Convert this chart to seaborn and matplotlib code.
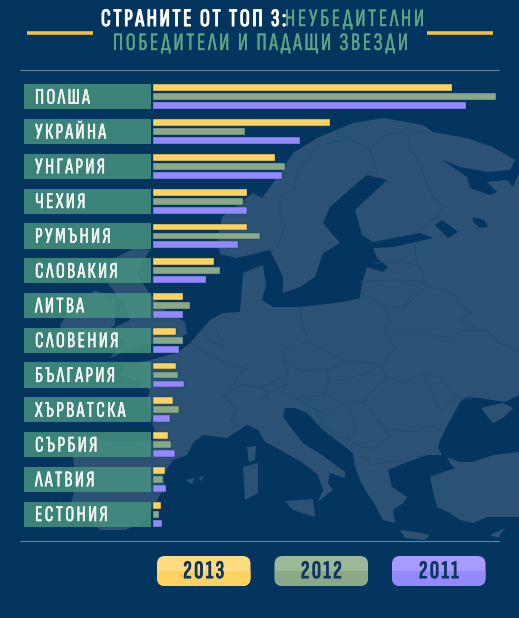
import numpy as np
import pandas as pd
import seaborn as sns
import matplotlib
matplotlib.use("Agg")
import matplotlib.pyplot as plt
import matplotlib.patheffects as pe
from matplotlib.patches import Polygon, FancyBboxPatch, Rectangle

countries = ["ПОЛША", "УКРАЙНА", "УНГАРИЯ", "ЧЕХИЯ", "РУМЪНИЯ", "СЛОВАКИЯ", "ЛИТВА",
             "СЛОВЕНИЯ", "БЪЛГАРИЯ", "ХЪРВАТСКА", "СЪРБИЯ", "ЛАТВИЯ", "ЕСТОНИЯ"]
v2013 = [299, 177, 122, 94, 94, 61, 30, 23, 23, 19.5, 15, 12, 7.5]
v2012 = [343, 92, 132, 90, 107, 67, 37, 30, 24.5, 26, 18, 10, 6]
v2011 = [313, 147, 129, 94, 85, 53, 30, 26, 31, 17, 22, 13, 9]
years = ["2013", "2012", "2011"]
palette = {"2013": "#fdd25f", "2012": "#8ba985", "2011": "#9389fb"}
palette_light = {"2013": "#fedc80", "2012": "#9bb998", "2011": "#a79bff"}
label_widths = [53, 69, 67, 49, 72, 79, 49, 78, 78, 88, 58, 58, 66]

BG = "#03355f"
LAND = "#2b5274"
BORDER = "#224c74"
W, H = 519, 618
HS = "\u200a"
FONT = ["Sofia Sans Extra Condensed", "Roboto Condensed", "DejaVu Sans"]

sns.set_theme(style="white")
plt.rcParams["font.family"] = FONT
fig = plt.figure(figsize=(W / 100, H / 100), dpi=100, facecolor=BG)

def fit(s, width, **kw):
    """Letter-space s with hair spaces so that it is about width pixels wide."""
    r = fig.canvas.get_renderer()
    best, err = s, 1e9
    for n in range(0, 14):
        cand = (HS * n).join(s)
        t = fig.text(0, 0, cand, family=FONT, **kw)
        w = t.get_window_extent(r).width
        t.remove()
        if abs(w - width) < err:
            best, err = cand, abs(w - width)
    return best

def heavy(color, w):
    return [pe.withStroke(linewidth=w, foreground=color)]

# background map, in picture pixels
bg = fig.add_axes([0, 0, 1, 1], zorder=0)
bg.set_xlim(0, W); bg.set_ylim(H, 0); bg.axis("off"); bg.set_facecolor(BG)

main = [(217,240),(222,217),(253,193),(262,198),(280,173),(293,153),(317,138),(353,123),(383,118),(423,125),
        (433,132),(467,138),(493,147),(515,160),(510,170),(487,172),(460,167),(442,160),(467,177),(470,188),
        (490,195),(497,192),(487,182),(507,180),(513,187),(519,173),(519,395),(505,402),(480,398),(467,397),
        (460,402),(452,417),(445,430),(440,440),(438,448),(442,455),(427,455),(407,462),(388,470),(392,487),
        (407,497),(403,503),(393,510),(395,523),(383,520),(375,505),(367,493),(360,480),(355,467),(353,453),
        (340,443),(323,430),(307,413),(295,408),(285,408),(283,417),(293,430),(303,443),(322,455),(345,472),
        (345,478),(330,473),(328,483),(333,490),(318,502),(323,490),(318,475),(303,463),(277,448),(265,442),
        (258,430),(247,425),(227,438),(203,435),(193,443),(187,455),(173,460),(163,475),(165,487),(155,503),
        (147,520),(125,530),(100,530),(88,518),(70,510),(76,480),(72,450),(85,438),(120,442),(157,440),
        (150,415),(147,400),(150,390),(135,380),(120,375),(125,365),(150,360),(177,353),(190,343),(210,320),
        (223,313),(240,312),(243,273),(263,265),(266,285),(262,300),(273,307),(300,307),(343,302),(360,298),
        (362,283),(367,267),(383,272),(388,267),(377,258),(373,248),(393,247),(433,238),(420,233),(373,242),
        (362,235),(355,210),(387,180),(367,175),(355,185),(330,207),(323,223),(340,243),(323,253),(315,277),
        (300,287),(283,293),(283,277),(270,250),(250,255),(236,258),(220,254)]
turkey = [(447,457),(460,462),(473,462),(493,455),(519,452),(519,517),(507,517),(487,517),(473,523),(460,520),
          (450,513),(437,507),(432,487),(430,477),(443,472),(453,468)]
uk = [(115,258),(135,248),(150,250),(137,273),(147,290),(165,310),(185,322),(187,333),(175,342),(140,345),
      (110,358),(125,340),(105,332),(130,320),(125,305),(113,290),(105,280)]
ireland = [(70,310),(95,290),(115,300),(115,325),(95,340),(65,345),(60,325)]
crimea = [(481,408),(493,405),(503,403),(513,408),(503,418),(493,423),(488,417)]
islands = [[(247,447),(256,446),(255,460),(249,462)],
           [(243,467),(258,463),(258,493),(245,500)],
           [(285,501),(313,499),(315,517),(293,510)],
           [(400,530),(415,532),(430,535),(425,540),(405,538)],
           [(185,480),(195,478),(192,484)],[(198,478),(204,476),(201,481)],
           [(490,535),(505,528),(498,538)]]
lakes = [[(435,225),(442,220),(458,232),(448,238)],
         [(473,217),(484,220),(488,227),(480,228),(473,222)],
         [(398,478),(408,482),(405,490),(397,484)],
         [(433,470),(450,464),(455,468),(440,473)]]

for poly in [main, turkey, uk, ireland, crimea] + islands:
    bg.add_patch(Polygon(poly, closed=True, fc=LAND, ec="none"))
for poly in lakes:
    bg.add_patch(Polygon(poly, closed=True, fc=BG, ec="none"))

north = [[(330,115),(265,85),(170,110),(120,170),(100,240),(60,260),(60,320),(75,345),(60,390),(50,420)],
         [(330,115),(345,170),(355,200)],
         [(330,115),(380,75),(440,60),(490,65)],
         [(450,85),(445,110),(480,160),(495,210),(520,260),(550,290),(530,320),(470,365)],
         [(465,410),(470,465),(395,450),(345,460)],
         [(480,470),(495,515),(405,510),(300,515)],
         [(495,515),(455,545),(430,595),(375,590),(350,575),(305,550)],
         [(375,590),(390,640),(370,660)],
         [(430,595),(500,530),(575,545),(630,610),(600,630),(650,655)],
         [(125,590),(120,625),(130,660)]]
south = [[(125,0),(145,65),(190,90),(260,125),(300,125),(365,135),(405,85),(375,25),(390,0)],
         [(385,40),(480,40),(580,55),(600,30),(680,30),(720,70),(777,95)],
         [(145,65),(65,95),(85,130),(120,155),(200,150),(260,125)],
         [(65,95),(85,165),(0,205)],
         [(85,190),(65,215),(110,235),(190,225),(205,185),(200,150)],
         [(200,155),(210,185),(260,175),(310,160),(365,135),(380,175)],
         [(380,175),(340,210),(310,245),(265,255),(190,225)],
         [(380,175),(430,185),(490,165),(540,170),(570,210),(590,235),(635,235)],
         [(490,165),(510,200),(540,270),(590,235)],
         [(310,245),(345,290),(375,325),(450,335),(510,320),(555,335)],
         [(110,235),(180,275),(265,255)],
         [(265,255),(285,310),(285,340),(260,355)],
         [(170,280),(220,345),(260,355)],
         [(260,355),(300,380),(350,385),(385,350),(375,325)],
         [(285,410),(320,410),(330,435),(390,425),(440,415),(500,405)],
         [(0,240),(30,220),(85,190)]]
west = [[(395,310),(430,335),(500,370),(555,385)],
        [(430,290),(490,320),(470,270)],
        [(555,385),(490,470)],
        [(490,470),(540,435),(610,440),(625,480)],
        [(490,470),(530,510),(510,540),(540,555)]]
for group, ox, oy in [(north, 260, 110), (south, 260, 320), (west, 60, 240)]:
    for line in group:
        a = np.array(line, float)
        bg.plot(ox + a[:, 0] / 3, oy + a[:, 1] / 3, color=BORDER, lw=0.6)

# chart
df = pd.DataFrame({"country": countries, "2013": v2013, "2012": v2012, "2011": v2011})
long = df.melt(id_vars="country", value_vars=years, var_name="year", value_name="value")
ax = fig.add_axes([0, 0, 1, 1], zorder=1)
ax.patch.set_alpha(0)
sns.barplot(data=long, y="country", x="value", hue="year", order=countries, hue_order=years,
            palette=palette, orient="h", width=0.776, gap=0.24, saturation=1, legend=False, ax=ax,
            edgecolor="#0d3a63", linewidth=0.3)
ax.set_xlim(-153, W - 153)
pitch = 34.78
first = 96.8
ax.set_ylim((H - first) / pitch, -first / pitch)
ax.axis("off")
ax.barh(np.arange(len(countries)), [127] * len(countries), left=-129, height=25.2 / pitch,
        color="#489480", alpha=0.82, lw=0)
for i, (c, w) in enumerate(zip(countries, label_widths)):
    ax.text(-118, i + 0.04, fit(c, w, fontsize=16), color="#f2f6f2", fontsize=16,
            va="center", ha="left", family=FONT, path_effects=heavy("#f2f6f2", 0.35))

# overlay: title, rules, legend
ov = fig.add_axes([0, 0, 1, 1], zorder=2)
ov.set_xlim(0, W); ov.set_ylim(H, 0); ov.axis("off"); ov.patch.set_alpha(0)
GREEN = "#5fa585"
ov.text(101, 20, fit("СТРАНИТЕ ОТ ТОП 3:", 166, fontsize=18), color="white",
        fontsize=18, va="center", ha="left", family=FONT, path_effects=heavy("white", 0.8))
ov.text(285, 20, fit("НЕУБЕДИТЕЛНИ", 134, fontsize=18), color=GREEN, fontsize=18,
        va="center", ha="left", family=FONT, path_effects=heavy(GREEN, 0.2))
ov.text(259.5, 44, fit("ПОБЕДИТЕЛИ И ПАДАЩИ ЗВЕЗДИ", 285, fontsize=18), color=GREEN, fontsize=18,
        va="center", ha="center", family=FONT, path_effects=heavy(GREEN, 0.2))
for a, b in [(27, 93), (427, 493)]:
    ov.plot([a, b], [33, 33], color="#f3bd3f", lw=2.6, solid_capstyle="butt")
for y in (69.5, 540.5):
    ov.plot([20, 499], [y, y], color="#5f86a3", lw=0.8)

for yr, x0 in zip(years, (157, 274.5, 392)):
    r = FancyBboxPatch((x0 + 8, 556 + 8), 93.5 - 16, 30 - 16, boxstyle="round,pad=8,rounding_size=8",
                       fc=palette_light[yr], ec="none", mutation_aspect=1)
    ov.add_patch(r)
    lower = Rectangle((x0, 570.5), 94, 16, fc=palette[yr], ec="none")
    ov.add_patch(lower)
    lower.set_clip_path(r)
    ov.text(x0 + 46.8, 572, fit(yr, 39, fontsize=18), color="#0f3561", fontsize=18,
            va="center", ha="center", family=FONT, path_effects=heavy("#0f3561", 0.8))

fig.savefig("out.png", dpi=100, facecolor=BG)
